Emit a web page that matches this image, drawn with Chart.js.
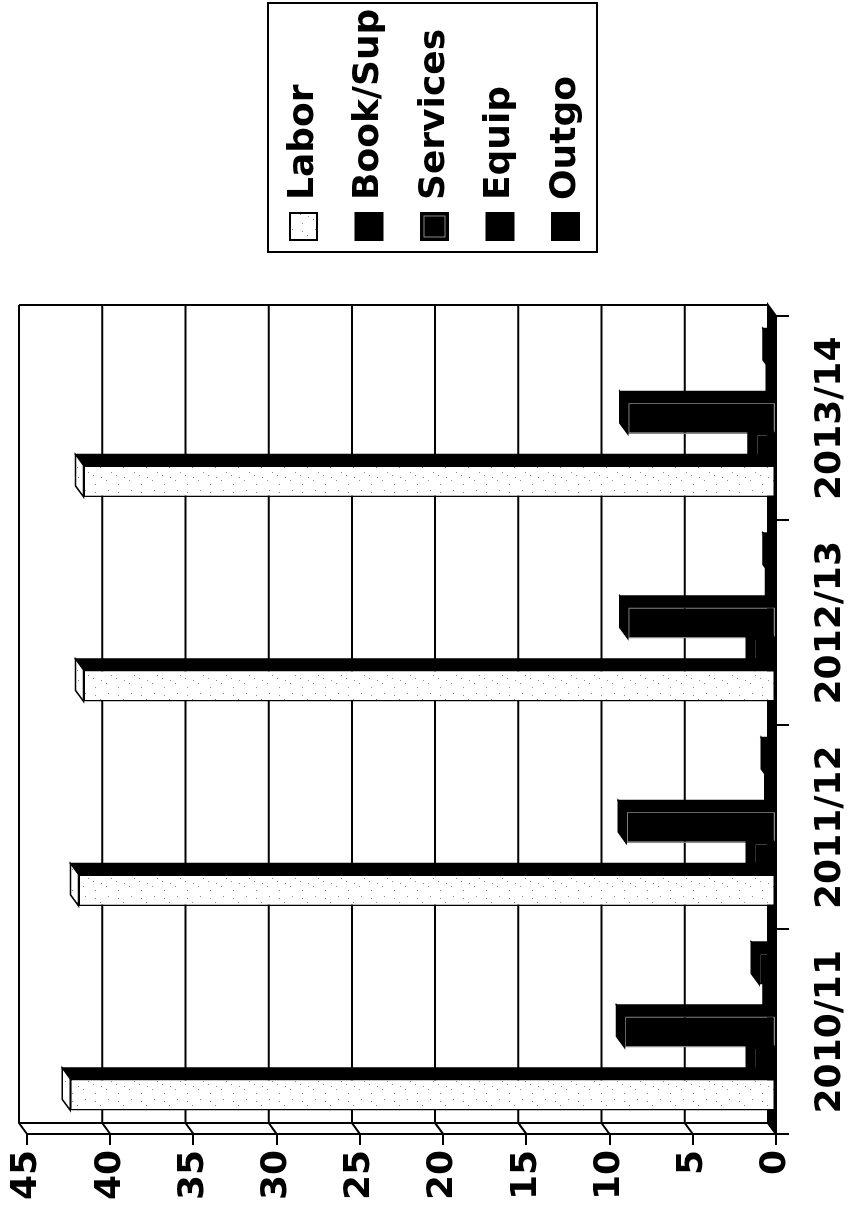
<!DOCTYPE html>
<html>
<head>
<meta charset="utf-8">
<title>Spending by year</title>
<script src="https://cdn.jsdelivr.net/npm/chart.js@4.4.1/dist/chart.umd.min.js"></script>
<style>
	html, body { margin: 0; padding: 0; background: #fff; width: 854px; height: 1212px; overflow: hidden; }
	/* chart is laid out landscape, then turned a quarter to the left */
	#wrap { position: absolute; left: 0; top: 0; width: 1212px; height: 854px; transform-origin: 0 0; transform: translate(0, 1212px) rotate(-90deg); }
</style>
</head>
<body>
<div id="wrap"><canvas id="chart-spending" width="1212" height="854"></canvas></div>
<script>
const YEARS = ["2010/11", "2011/12", "2012/13", "2013/14"];
const LABOR = [42.4, 41.9, 41.6, 41.6];
const BOOK_SUP = [1.3, 1.3, 1.3, 1.2];
const SERVICES = [9.1, 9.0, 8.9, 8.9];
const EQUIP = [0.3, 0.2, 0.15, 0.1];
const OUTGO = [1.0, 0.4, 0.3, 0.3];
const VALUE_TICKS = [0, 5, 10, 15, 20, 25, 30, 35, 40, 45];

const FONT = "'DejaVu Sans', 'Liberation Sans', sans-serif";
// depth of the 3d box (x to the right, y upwards)
const DX = 11;
const DY = -8;

// light speckled fill used for the Labor bars
const stipple = (() => {
	const c = document.createElement("canvas");
	c.width = 29;
	c.height = 23;
	const g = c.getContext("2d");
	g.fillStyle = "#fff";
	g.fillRect(0, 0, 29, 23);
	g.fillStyle = "#888";
	[[2, 3], [11, 1], [19, 8], [25, 16], [6, 14], [14, 19], [23, 3], [9, 9]].forEach(([x, y]) => g.fillRect(x, y, 1, 1));
	return g.createPattern(c, "repeat");
})();

const poly = (ctx, pts, fill) => {
	ctx.beginPath();
	pts.forEach(([x, y], i) => (i ? ctx.lineTo(x, y) : ctx.moveTo(x, y)));
	ctx.closePath();
	ctx.fillStyle = fill;
	ctx.fill();
	ctx.stroke();
};

// back wall, floor and the extruded faces of the bars
const depthPlugin = {
	id: "depth3d",
	beforeDatasetsDraw(chart) {
		const { ctx, chartArea: a, scales } = chart;
		ctx.save();
		ctx.strokeStyle = "#000";
		ctx.lineWidth = 2;

		// floor
		poly(ctx, [[a.left, a.bottom], [a.left + DX, a.bottom + DY], [a.right + DX, a.bottom + DY], [a.right, a.bottom]], "#000");

		// gridlines on the back wall, joined to the front ticks across the side wall
		VALUE_TICKS.forEach((v) => {
			const py = scales.y.getPixelForValue(v);
			ctx.beginPath();
			ctx.moveTo(a.left, py);
			ctx.lineTo(a.left + DX, py + DY);
			ctx.lineTo(a.right + DX, py + DY);
			ctx.stroke();
		});

		ctx.beginPath();
		ctx.moveTo(a.left + DX, a.top + DY);
		ctx.lineTo(a.left + DX, a.bottom + DY);
		ctx.moveTo(a.right + DX, a.top + DY);
		ctx.lineTo(a.right + DX, a.bottom + DY);
		ctx.stroke();
		ctx.restore();
	},
	afterDatasetDraw(chart, args) {
		const ctx = chart.ctx;
		const light = args.index === 0;
		ctx.save();
		ctx.strokeStyle = "#000";
		ctx.lineWidth = 1.5;
		args.meta.data.forEach((bar) => {
			const { x, y, base, width } = bar.getProps(["x", "y", "base", "width"], true);
			const l = x - width / 2;
			const r = x + width / 2;
			poly(ctx, [[r, y], [r + DX, y + DY], [r + DX, base + DY], [r, base]], "#000");
			poly(ctx, [[l, y], [l + DX, y + DY], [r + DX, y + DY], [r, y]], light ? stipple : "#000");
		});
		ctx.restore();
	},
};

// boxed legend on the right
const LEGEND_BOX = { left: 960, top: 268, width: 249, height: 329 };
const legendPlugin = {
	id: "boxLegend",
	afterDraw(chart) {
		const ctx = chart.ctx;
		ctx.save();
		ctx.strokeStyle = "#000";
		ctx.lineWidth = 2;
		ctx.strokeRect(LEGEND_BOX.left, LEGEND_BOX.top, LEGEND_BOX.width, LEGEND_BOX.height);

		ctx.font = "bold 36px " + FONT;
		ctx.textBaseline = "middle";
		ctx.textAlign = "left";
		chart.data.datasets.forEach((ds, i) => {
			const cy = 303.5 + i * 65.5;
			ctx.fillStyle = ds.backgroundColor;
			ctx.fillRect(972, cy - 13.5, 27, 27);
			ctx.lineWidth = 2;
			ctx.strokeStyle = "#000";
			ctx.strokeRect(972, cy - 13.5, 27, 27);
			if (ds.borderColor !== "#000") {
				ctx.lineWidth = 1;
				ctx.strokeStyle = ds.borderColor;
				ctx.strokeRect(975, cy - 10.5, 21, 21);
			}
			ctx.fillStyle = "#000";
			ctx.fillText(ds.label, 1012, cy);
		});
		ctx.restore();
	},
};

const CHART_DATA = {
	labels: YEARS,
	datasets: [
		{ label: "Labor", data: LABOR, backgroundColor: stipple, borderColor: "#000" },
		{ label: "Book/Sup", data: BOOK_SUP, backgroundColor: "#000", borderColor: "#000" },
		{ label: "Services", data: SERVICES, backgroundColor: "#000", borderColor: "#888" },
		{ label: "Equip", data: EQUIP, backgroundColor: "#000", borderColor: "#000" },
		{ label: "Outgo", data: OUTGO, backgroundColor: "#000", borderColor: "#000" },
	].map((ds) => ({ ...ds, borderWidth: 1.5, borderSkipped: false, categoryPercentage: 0.77, barPercentage: 1 })),
};

const TICK_FONT = { family: FONT, size: 36, weight: "bold" };

const CHART_CONFIG = {
	type: "bar",
	data: CHART_DATA,
	options: {
		responsive: false,
		animation: false,
		devicePixelRatio: 1,
		layout: {
			padding: { top: 27, right: 316, bottom: 0, left: 0 },
		},
		plugins: {
			legend: { display: false },
			title: { display: false },
			tooltip: { enabled: false },
		},
		scales: {
			x: {
				afterFit: (scale) => {
					scale.height = 78;
				},
				border: { display: true, color: "#000", width: 2 },
				grid: {
					offset: true,
					drawOnChartArea: false,
					drawTicks: true,
					tickLength: 13,
					color: "#000",
					lineWidth: 2,
				},
				ticks: {
					color: "#000",
					font: TICK_FONT,
					padding: 20,
					maxRotation: 0,
					autoSkip: false,
				},
			},
			y: {
				min: 0,
				max: 45,
				afterFit: (scale) => {
					scale.width = 78;
				},
				afterBuildTicks: (scale) => {
					scale.ticks = VALUE_TICKS.map((v) => ({ value: v }));
				},
				border: { display: true, color: "#000", width: 2 },
				grid: {
					drawOnChartArea: false,
					drawTicks: true,
					tickLength: 11,
					color: "#000",
					lineWidth: 2,
				},
				ticks: {
					color: "#000",
					font: TICK_FONT,
					padding: 5,
				},
			},
		},
	},
	plugins: [depthPlugin, legendPlugin],
};

new Chart(document.getElementById("chart-spending"), CHART_CONFIG);
</script>
</body>
</html>
